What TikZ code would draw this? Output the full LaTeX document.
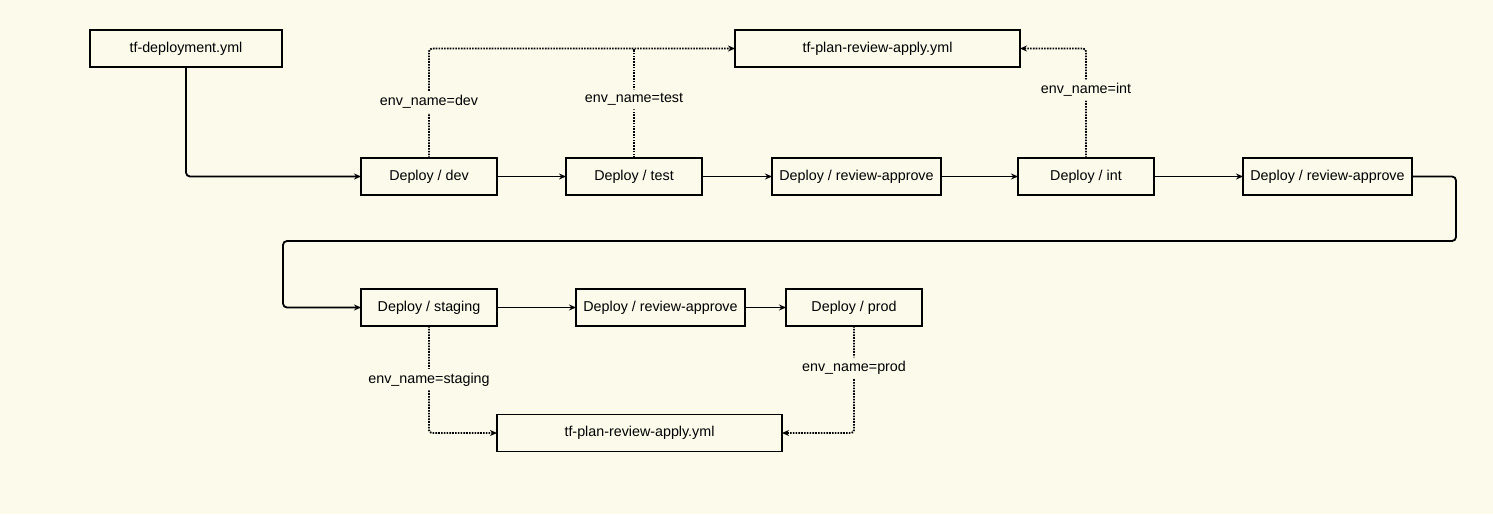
\documentclass[tikz,border=0pt]{standalone}
\usepackage{fontspec}
\setmainfont{Liberation Sans}
\usepackage{tikz}
\usetikzlibrary{arrows.meta, positioning}
\definecolor{paper}{RGB}{251,250,235}

\begin{document}
\begin{tikzpicture}[x=1pt,y=1pt,>={Stealth[length=7pt,width=6pt]},font=\fontsize{14.3}{16}\selectfont]
  \tikzstyle{job}=[draw, line width=1.9pt, outer sep=0pt, minimum width=136pt, minimum height=37pt, inner xsep=6pt]
  \tikzstyle{flow}=[->, line width=1.8pt, rounded corners=4pt]
  \tikzstyle{call}=[->, line width=1.8pt, dash pattern=on 1.6pt off 1.2pt, rounded corners=3pt]
  \tikzstyle{envlabel}=[fill=paper, inner sep=4pt]

  \fill[paper] (0,0) rectangle (1493,-514);
  \useasboundingbox (0,0) rectangle (1493,-514);

  \node[job, minimum width=192pt] (tfdeploy) at (186,-48.5)   {tf-deployment.yml};
  \node[job, minimum width=285pt] (plantop)  at (877.5,-48.5) {tf-plan-review-apply.yml};

  \node[job]       (dev)     at (429,-176.5)          {Deploy / dev};
  \node[job]       (test)    [right=69pt of dev]      {Deploy / test};
  \node[job, minimum width=169pt] (review1) [right=70pt of test]     {Deploy / review-approve};
  \node[job]       (int)     [right=77pt of review1]  {Deploy / int};
  \node[job, minimum width=169pt] (review2) [right=89pt of int]      {Deploy / review-approve};

  \node[job]       (staging) [below=94pt of dev]      {Deploy / staging};
  \node[job, minimum width=169pt] (review3) [right=79pt of staging]  {Deploy / review-approve};
  \node[job]       (prod)    [right=41pt of review3]  {Deploy / prod};

  \node[job, minimum width=285pt] (planbot) at (639.5,-433) {tf-plan-review-apply.yml};

  \coordinate (wrapR) at (1456,-241);
  \coordinate (wrapL) at (283,-241);

  \draw[flow] (tfdeploy.south) |- (dev.west);
  \draw[flow] (dev) -- (test);
  \draw[flow] (test) -- (review1);
  \draw[flow] (review1) -- (int);
  \draw[flow] (int) -- (review2);
  \draw[flow] (review2.east) -| (wrapR) -- (wrapL) |- (staging.west);
  \draw[flow] (staging) -- (review3);
  \draw[flow] (review3) -- (prod);

  \draw[call] (dev.north) |- (plantop.west) node[envlabel, pos=0.255] {env\_name=dev};
  \draw[call, -] (test.north) -- (test.north |- plantop.west) node[envlabel, pos=0.536] {env\_name=test};
  \draw[call] (int.north) |- (plantop.east) node[envlabel, pos=0.31] {env\_name=int};
  \draw[call] (staging.south) |- (planbot.west) node[envlabel, pos=0.25] {env\_name=staging};
  \draw[call] (prod.south) |- (planbot.east) node[envlabel, pos=0.196] {env\_name=prod};
\end{tikzpicture}
\end{document}
